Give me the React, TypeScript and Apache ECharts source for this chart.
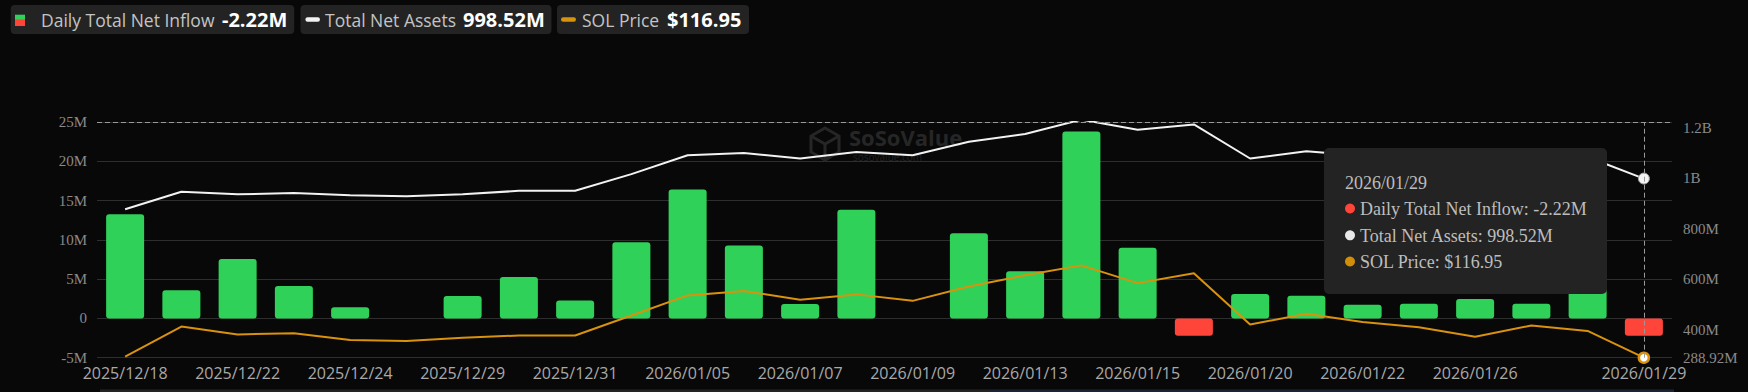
import React, { useEffect, useRef } from "react";
import * as echarts from "echarts";

const dates = [
  "2025/12/18", "2025/12/19", "2025/12/22", "2025/12/23", "2025/12/24", "2025/12/26",
  "2025/12/29", "2025/12/30", "2025/12/31", "2026/01/02", "2026/01/05", "2026/01/06",
  "2026/01/07", "2026/01/08", "2026/01/09", "2026/01/12", "2026/01/13", "2026/01/14",
  "2026/01/15", "2026/01/16", "2026/01/20", "2026/01/21", "2026/01/22", "2026/01/23",
  "2026/01/26", "2026/01/27", "2026/01/28", "2026/01/29",
];

// Daily Total Net Inflow (millions USD)
const netInflow = [
  13.26, 3.57, 7.56, 4.14, 1.43, 0, 2.85, 5.28, 2.28, 9.7, 16.4, 9.27, 1.85, 13.84, 0,
  10.84, 5.99, 23.79, 8.99, -2.2, 3.12, 2.9, 1.75, 1.88, 2.48, 1.88, 6.65, -2.22,
];

// Total Net Assets (millions USD)
const netAssets = [
  877, 946, 936, 941, 932, 928, 936, 950, 950, 1016, 1091, 1100, 1078, 1104, 1091,
  1144, 1175, 1232, 1192, 1213, 1078, 1107, 1089, 1080, 1061, 1093, 1084, 998.52,
];

// SOL Price (USD)
const solPrice = [
  117.24, 126.06, 123.78, 124.1, 122.14, 121.81, 122.78, 123.45, 123.45, 129.31, 135.2,
  136.5, 133.9, 135.5, 133.6, 137.8, 141.1, 144.0, 138.8, 141.7, 126.7, 129.8, 127.4,
  125.9, 123.1, 126.4, 124.8, 116.95,
];

const leftTicks = { min: -5, max: 25, interval: 5 };
const rightTicks = [288.92, 400, 600, 800, 1000, 1200];
const rightRange = { min: 288.92, max: 1222.6 };
const priceRange = { min: 116.95, max: 186.0 };

const GREEN = "#30d158";
const RED = "#ff453a";
const WHITE = "#f2f2f2";
const ORANGE = "#d9920d";

export default function App() {
  const ref = useRef<HTMLDivElement>(null);

  useEffect(() => {
    if (!ref.current) return;
    const chart = echarts.init(ref.current, undefined, { renderer: "svg" });
    const last = dates.length - 1;
    const inflowLast = netInflow[last];
    const assetsLast = netAssets[last];
    const priceLast = solPrice[last];

    const lblFont = '"Open Sans", "Noto Sans", sans-serif';
    const serif = '"Liberation Serif", "DejaVu Serif", serif';

    const legendY = 5;
    const legendH = 29;
    const cy = legendY + legendH / 2 + 0.3;

    const graphic: any[] = [
      // watermark
      {
        type: "polygon",
        z: 1,
        silent: true,
        shape: {
          points: [
            [825, 128], [839, 136], [839, 152], [825, 160], [811, 152], [811, 136],
          ],
        },
        style: { fill: "none", stroke: "#262626", lineWidth: 3 },
      },
      {
        type: "polyline",
        z: 1,
        silent: true,
        shape: { points: [[811, 136], [825, 144], [839, 136]] },
        style: { stroke: "#262626", lineWidth: 3, fill: "none" },
      },
      {
        type: "line",
        z: 1,
        silent: true,
        shape: { x1: 825, y1: 144, x2: 825, y2: 160 },
        style: { stroke: "#262626", lineWidth: 3 },
      },
      {
        type: "text",
        z: 1,
        silent: true,
        x: 849,
        y: 137,
        style: {
          text: "SoSoValue",
          fill: "#262626",
          font: 'bold 22px "Open Sans", sans-serif',
          verticalAlign: "middle",
        },
      },
      {
        type: "text",
        z: 1,
        silent: true,
        x: 853,
        y: 157,
        style: {
          text: "sosovalue.com",
          fill: "#222222",
          font: '10px "Open Sans", sans-serif',
          verticalAlign: "middle",
        },
      },
      // bottom strip (data zoom edge)
      { type: "rect", z: 1, silent: true, shape: { x: 100, y: 389.5, width: 889, height: 3 }, style: { fill: "#242424" } },
      { type: "rect", z: 1, silent: true, shape: { x: 989, y: 389.5, width: 685, height: 3 }, style: { fill: "#1c2535" } },

      // legend box 1
      { type: "rect", shape: { x: 10.7, y: legendY, width: 283.5, height: legendH, r: 4 }, style: { fill: "#232323" } },
      { type: "rect", shape: { x: 15, y: 14.7, width: 10, height: 5.2 }, style: { fill: GREEN } },
      { type: "rect", shape: { x: 15, y: 19.9, width: 10, height: 6.1 }, style: { fill: RED } },
      {
        type: "text", x: 41, y: cy,
        style: { text: "Daily Total Net Inflow", fill: "#c4c4c4", font: `17.5px ${lblFont}`, verticalAlign: "middle" },
      },
      {
        type: "text", x: 222, y: cy,
        style: { text: `${inflowLast}M`, fill: "#ffffff", font: `bold 20px ${lblFont}`, verticalAlign: "middle" },
      },
      // legend box 2
      { type: "rect", shape: { x: 300.5, y: legendY, width: 251, height: legendH, r: 4 }, style: { fill: "#232323" } },
      { type: "rect", shape: { x: 305.4, y: 17.3, width: 14.6, height: 4.5, r: 2.2 }, style: { fill: WHITE } },
      {
        type: "text", x: 325, y: cy,
        style: { text: "Total Net Assets", fill: "#c4c4c4", font: `17.5px ${lblFont}`, verticalAlign: "middle" },
      },
      {
        type: "text", x: 463, y: cy,
        style: { text: `${assetsLast}M`, fill: "#ffffff", font: `bold 20px ${lblFont}`, verticalAlign: "middle" },
      },
      // legend box 3
      { type: "rect", shape: { x: 557, y: legendY, width: 192, height: legendH, r: 4 }, style: { fill: "#232323" } },
      { type: "rect", shape: { x: 561, y: 17.3, width: 15, height: 4.5, r: 2.2 }, style: { fill: ORANGE } },
      {
        type: "text", x: 582, y: cy,
        style: { text: "SOL Price", fill: "#c4c4c4", font: `17.5px ${lblFont}`, verticalAlign: "middle" },
      },
      {
        type: "text", x: 667, y: cy,
        style: { text: `$${priceLast}`, fill: "#ffffff", font: `bold 20px ${lblFont}`, verticalAlign: "middle" },
      },

      // tooltip
      {
        type: "rect", z: 100,
        shape: { x: 1324, y: 148, width: 283, height: 146, r: 5 },
        style: { fill: "#232323" },
      },
      {
        type: "text", z: 101, x: 1345, y: 182.7,
        style: { text: dates[last], fill: "#bdbdbd", font: `18px ${serif}`, verticalAlign: "middle" },
      },
      { type: "circle", z: 101, shape: { cx: 1350, cy: 208.5, r: 5 }, style: { fill: RED } },
      {
        type: "text", z: 101, x: 1360, y: 208.7,
        style: { text: `Daily Total Net Inflow: ${inflowLast}M`, fill: "#bdbdbd", font: `18px ${serif}`, verticalAlign: "middle" },
      },
      { type: "circle", z: 101, shape: { cx: 1350, cy: 235.3, r: 5 }, style: { fill: "#e8e8e8" } },
      {
        type: "text", z: 101, x: 1360, y: 235.5,
        style: { text: `Total Net Assets: ${assetsLast}M`, fill: "#bdbdbd", font: `18px ${serif}`, verticalAlign: "middle" },
      },
      { type: "circle", z: 101, shape: { cx: 1350, cy: 261.5, r: 5 }, style: { fill: "#d18e09" } },
      {
        type: "text", z: 101, x: 1360, y: 261.7,
        style: { text: `SOL Price: $${priceLast}`, fill: "#bdbdbd", font: `18px ${serif}`, verticalAlign: "middle" },
      },
    ];

    chart.setOption({
      animation: false,
      backgroundColor: "#080808",
      grid: {
        left: 97,
        right: 76,
        top: 122,
        bottom: 34.3,
        containLabel: false,
        outerBoundsMode: "none",
      },
      xAxis: {
        type: "category",
        data: dates,
        boundaryGap: true,
        axisLine: { show: false },
        axisTick: { show: false },
        splitLine: { show: false },
        axisLabel: {
          color: "#a9a9a9",
          fontFamily: lblFont,
          fontSize: 16,
          margin: 7,
          hideOverlap: false,
          interval: (i: number) => (i % 2 === 0 && i !== dates.length - 2) || i === dates.length - 1,
        },
      },
      yAxis: [
        {
          type: "value",
          min: leftTicks.min,
          max: leftTicks.max,
          interval: leftTicks.interval,
          axisLine: { show: false },
          axisTick: { show: false },
          splitLine: { show: true, lineStyle: { color: "#2e2e2e", width: 1 } },
          axisLabel: {
            color: "#8a8a8a",
            fontFamily: serif,
            fontSize: 15,
            margin: 10,
            formatter: (v: number) => (v === 0 ? "0" : `${v}M`),
          },
        },
        {
          type: "value",
          position: "right",
          min: rightRange.min,
          max: rightRange.max,
          axisLine: { show: false },
          axisTick: { show: false },
          splitLine: { show: false },
          axisLabel: {
            color: "#8a8a8a",
            fontFamily: serif,
            fontSize: 15,
            margin: 11,
            customValues: rightTicks,
            formatter: (v: number) =>
              v >= 1000 ? `${+(v / 1000).toFixed(2)}B` : `${+v.toFixed(2)}M`,
          },
        },
        {
          type: "value",
          show: false,
          min: priceRange.min,
          max: priceRange.max,
          splitLine: { show: false },
        },
      ],
      series: [
        {
          name: "Daily Total Net Inflow",
          type: "bar",
          yAxisIndex: 0,
          barWidth: 38,
          z: 2,
          data: netInflow.map((v) => ({
            value: v,
            itemStyle: { color: v >= 0 ? GREEN : RED, borderRadius: 3 },
          })),
          markLine: {
            silent: true,
            symbol: ["none", "none"],
            label: { show: false },
            lineStyle: { color: "#9a9a9a", type: [5, 3], width: 1 },
            data: [{ xAxis: dates[last] }, { yAxis: leftTicks.max }],
          },
        },
        {
          name: "Total Net Assets",
          type: "line",
          yAxisIndex: 1,
          z: 4,
          symbol: "none",
          showSymbol: true,
          lineStyle: { color: WHITE, width: 2 },
          itemStyle: { color: WHITE },
          data: netAssets.map((v, i) =>
            i === last
              ? {
                  value: v,
                  symbol: "circle",
                  symbolSize: 11,
                  itemStyle: { color: "#f4f4f4", borderColor: "#9c9c9c", borderWidth: 1 },
                }
              : v
          ),
        },
        {
          name: "SOL Price",
          type: "line",
          yAxisIndex: 2,
          z: 4,
          symbol: "none",
          showSymbol: true,
          lineStyle: { color: ORANGE, width: 2 },
          itemStyle: { color: ORANGE },
          data: solPrice.map((v, i) =>
            i === last
              ? {
                  value: v,
                  symbol: "circle",
                  symbolSize: 10,
                  itemStyle: { color: "#ffffff", borderColor: ORANGE, borderWidth: 2.5 },
                }
              : v
          ),
        },
      ],
      graphic,
    });

    return () => chart.dispose();
  }, []);

  return (
    <div
      ref={ref}
      style={{ position: "fixed", left: 0, top: 0, width: 1748, height: 392 }}
    />
  );
}
